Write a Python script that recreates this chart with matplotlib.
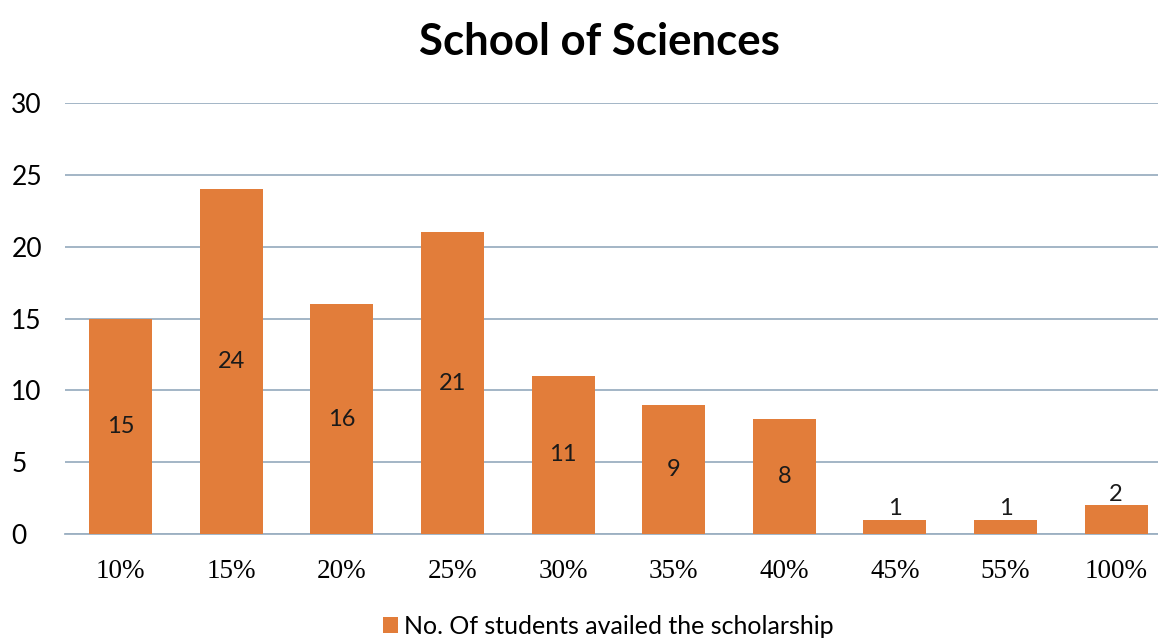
import matplotlib
matplotlib.use("Agg")
from matplotlib import pyplot as plt
from matplotlib.patches import Patch

# data
categories = ["10%", "15%", "20%", "25%", "30%", "35%", "40%", "45%", "55%", "100%"]
students = [15, 24, 16, 21, 11, 9, 8, 1, 1, 2]
yticks = [0, 5, 10, 15, 20, 25, 30]

BAR = "#E27D3A"
GRID = "#9CB0C2"

fig = plt.figure(figsize=(11.58, 6.39), dpi=100)
ax = fig.add_axes([0.0565, 0.1643, 0.955, 0.6745])

x = list(range(len(categories)))
ax.bar(x, students, width=0.57, color=BAR, zorder=3)

# value labels: centred in the bar, above it for the tiny ones
for xi, v in zip(x, students):
    if v >= 3:
        ax.text(xi, v / 2, str(v), ha="center", va="center",
                fontsize=17, family="Lato", color="#1a1a1a", zorder=4)
    else:
        ax.text(xi, v + 0.05, str(v), ha="center", va="bottom",
                fontsize=17, family="Lato", color="#1a1a1a", zorder=4)

ax.set_xlim(-0.5, len(categories) - 0.5)
ax.set_ylim(0, 30)
ax.set_yticks(yticks)
ax.set_xticks(x)
ax.set_xticklabels(categories, family="Liberation Serif", fontsize=19.5)
ax.set_yticklabels([str(t) for t in yticks], family="Lato", fontsize=19)
ax.yaxis.grid(True, color=GRID, linewidth=1.3, zorder=0)
ax.tick_params(axis="x", length=0, pad=18)
ax.tick_params(axis="y", length=0, pad=39)
for t in ax.get_yticklabels():
    t.set_horizontalalignment("left")
for s in ["top", "right", "left"]:
    ax.spines[s].set_visible(False)
ax.spines["bottom"].set_color(GRID)
ax.spines["bottom"].set_linewidth(1.3)

fig.text(0.518, 0.935, "School of Sciences", ha="center", va="center",
         fontsize=31.5, fontweight="bold", family="Lato")

handle = Patch(facecolor=BAR, edgecolor="none")
fig.legend([handle], ["No. Of students availed the scholarship"],
           loc="center", bbox_to_anchor=(0.525, 0.02), frameon=False,
           prop={"family": "Lato", "size": 18}, handlelength=0.6,
           handleheight=0.6, handletextpad=0.25, borderaxespad=0,
           borderpad=0)

fig.savefig("out.png", dpi=100)
